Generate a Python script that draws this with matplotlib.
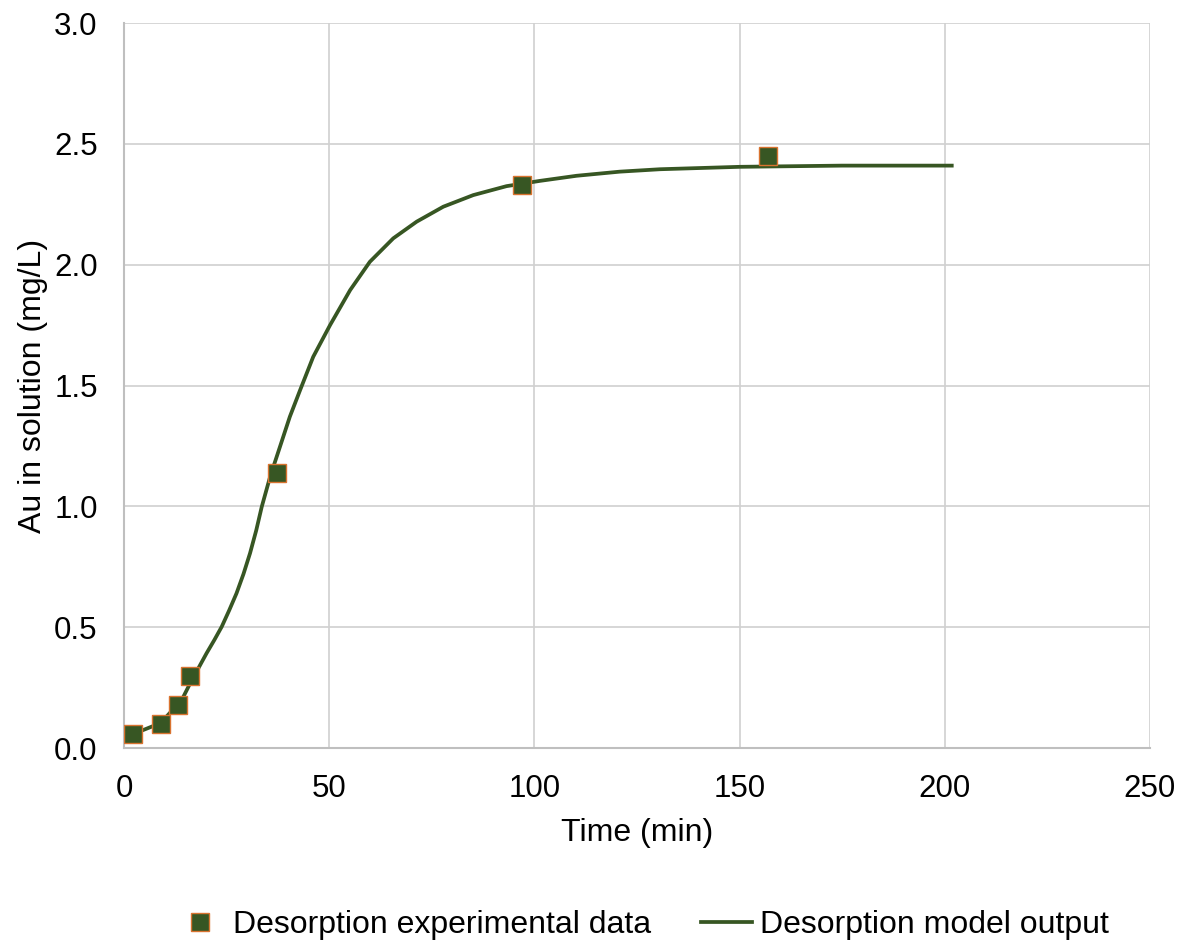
import matplotlib
matplotlib.use('Agg')
import matplotlib.pyplot as plt

#Experimental desorption points (time in min, Au in mg/L)
exp_time = [2.3, 9.1, 13.2, 16.1, 37.2, 97.0, 157.0]
exp_au = [0.06, 0.10, 0.18, 0.30, 1.14, 2.33, 2.45]

#Model output sampled along the fitted curve
model_time = [2.3, 4.3, 7.1, 9.2, 11.8, 14.45, 16.5, 18.3, 20.1, 22.0, 23.8, 25.6, 27.4, 29.1,
              30.7, 32.2, 33.55, 35.6, 38.0, 40.4, 42.9, 46.1, 50.2, 55.1, 59.9, 65.6, 71.3,
              77.8, 85.1, 93.2, 101.4, 110.3, 120.8, 130.6, 150.0, 175.0, 201.7]
model_au = [0.055, 0.072, 0.091, 0.109, 0.157, 0.212, 0.281, 0.336, 0.392, 0.447, 0.502, 0.569,
            0.640, 0.720, 0.806, 0.900, 0.998, 1.123, 1.247, 1.371, 1.481, 1.619, 1.750, 1.895,
            2.012, 2.109, 2.178, 2.240, 2.288, 2.325, 2.347, 2.368, 2.385, 2.395, 2.405, 2.41, 2.41]

x_ticks = [0, 50, 100, 150, 200, 250]
y_ticks = [0.0, 0.5, 1.0, 1.5, 2.0, 2.5, 3.0]

plt.rcParams['font.family'] = ['Liberation Sans', 'DejaVu Sans']

green = '#375623'
orange = '#D9732F'

fig = plt.figure(figsize=(11.86, 9.44), dpi=100)
ax = fig.add_axes([0.1046, 0.2076, 0.865, 0.768])

ax.plot(model_time, model_au, color=green, lw=2.7, zorder=3, solid_joinstyle='round',
        label='Desorption model output')
ax.plot(exp_time, exp_au, ls='none', marker='s', ms=13.2, mfc=green, mec=orange, mew=1.0,
        zorder=4, label='Desorption experimental data')

ax.set_xlim(0, 250)
ax.set_ylim(0, 3.0)
ax.set_xticks(x_ticks)
ax.set_yticks(y_ticks)
ax.set_xticklabels([str(t) for t in x_ticks])
ax.set_yticklabels(['%.1f' % t for t in y_ticks])
ax.tick_params(length=0, labelsize=22.5, colors='black')
ax.tick_params(axis='x', pad=19)
ax.tick_params(axis='y', pad=19)
ax.grid(True, color='#d0d0d0', lw=1.2)
ax.set_axisbelow(True)
for s in ['top', 'right']:
	ax.spines[s].set_visible(False)
for s in ['left', 'bottom']:
	ax.spines[s].set_color('#bfbfbf')
	ax.spines[s].set_linewidth(1.5)

ax.set_xlabel('Time (min)', fontsize=23, labelpad=10)
ax.set_ylabel('Au in solution (mg/L)', fontsize=23, labelpad=4)

handles, labels = ax.get_legend_handles_labels()
fig.legend(handles[::-1], labels[::-1], loc='center', bbox_to_anchor=(0.541, 0.02), ncol=2,
           frameon=False, fontsize=23, handlelength=1.6, handletextpad=0.25, columnspacing=1.55,
           borderpad=0.0)

plt.savefig('out.png', dpi=100)
